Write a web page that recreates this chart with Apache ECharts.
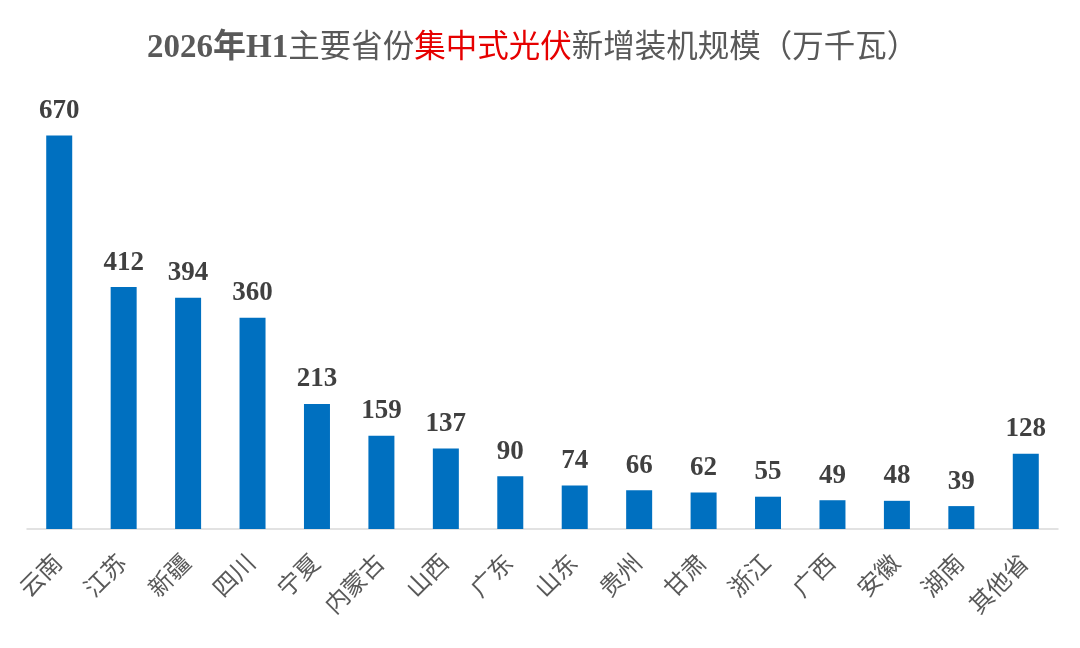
<!DOCTYPE html>
<html>
<head>
<meta charset="utf-8">
<script src="https://cdn.jsdelivr.net/npm/echarts@6/dist/echarts.min.js"></script>
<style>
html,body{margin:0;padding:0;background:#fff;}
#chart{width:1080px;height:648px;}
</style>
</head>
<body>
<div id="chart"></div>
<script>
var categories = ['云南','江苏','新疆','四川','宁夏','内蒙古','山西','广东','山东','贵州','甘肃','浙江','广西','安徽','湖南','其他省'];
var values = [670,412,394,360,213,159,137,90,74,66,62,55,49,48,39,128];

var chart = echarts.init(document.getElementById('chart'));
var serif = "'Liberation Serif','Noto Sans CJK SC',serif";
chart.setOption({
  backgroundColor: '#ffffff',
  animation: false,
  title: {
    text: '{b|2026年H1}{n|主要省份}{r|集中式光伏}{n|新增装机规模（万千瓦）}',
    left: 142,
    top: 27,
    textStyle: {
      rich: {
        b: {fontFamily: serif, fontSize: 33, fontWeight: 'bold', color: '#595959'},
        n: {fontFamily: serif, fontSize: 31.5, fontWeight: 'normal', color: '#595959'},
        r: {fontFamily: serif, fontSize: 31.5, fontWeight: 'normal', color: '#E60000'}
      }
    }
  },
  grid: {left: 27, right: 22, top: 118, bottom: 119},
  xAxis: {
    type: 'category',
    data: categories,
    axisLine: {lineStyle: {color: '#D9D9D9', width: 1.5}},
    axisTick: {show: false},
    axisLabel: {
      interval: 0,
      rotate: 45,
      margin: 31,
      fontSize: 24,
      color: '#595959',
      fontFamily: serif
    }
  },
  yAxis: {
    type: 'value',
    min: 0,
    max: 700,
    show: false,
    splitLine: {show: false}
  },
  series: [{
    type: 'bar',
    data: values,
    barWidth: 26,
    itemStyle: {color: '#0070C0'},
    label: {
      show: true,
      position: 'top',
      distance: 11,
      fontFamily: serif,
      fontWeight: 'bold',
      fontSize: 27,
      color: '#404040'
    }
  }]
});
</script>
</body>
</html>
